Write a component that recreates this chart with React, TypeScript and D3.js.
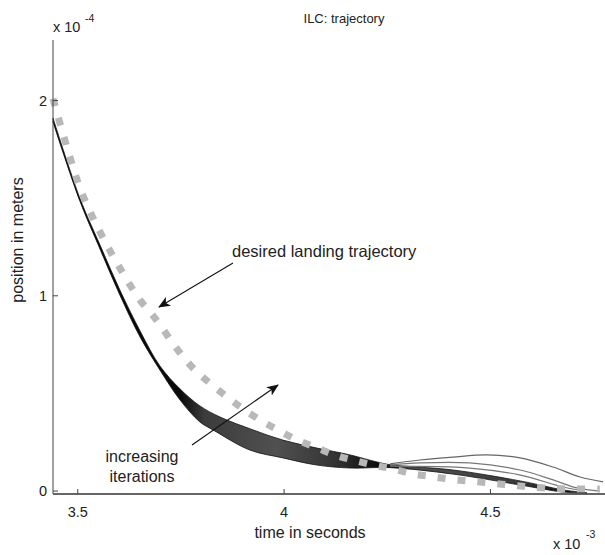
import React from "react";
import * as d3 from "d3";

// time in units of 1e-3 s, position in units of 1e-4 m
const xTicks = [3.5, 4, 4.5];
const yTicks = [0, 1, 2];
const xTickLabels = ["3.5", "4", "4.5"];
const yTickLabels = ["0", "1", "2"];

const desiredT = [3.44, 3.481, 3.51, 3.554, 3.602, 3.651, 3.687, 3.748, 3.784, 3.82, 3.862, 3.898, 3.942, 3.985, 4.031, 4.08, 4.123, 4.167, 4.215, 4.264, 4.312, 4.358, 4.407, 4.455, 4.504, 4.552, 4.601, 4.668, 4.765];
const desiredV = [2.01, 1.71, 1.527, 1.327, 1.142, 0.978, 0.886, 0.707, 0.62, 0.553, 0.482, 0.425, 0.364, 0.313, 0.262, 0.221, 0.185, 0.159, 0.134, 0.113, 0.088, 0.074, 0.06, 0.05, 0.04, 0.03, 0.02, 0.012, 0.01];

const bandUpperT = [3.44, 3.505, 3.554, 3.602, 3.651, 3.699, 3.748, 3.796, 3.845, 3.925, 3.997, 4.08, 4.16, 4.225, 4.257, 4.409, 4.572, 4.676, 4.717];
const bandUpperV = [1.91, 1.501, 1.26, 1.03, 0.82, 0.641, 0.523, 0.436, 0.379, 0.313, 0.261, 0.22, 0.185, 0.149, 0.135, 0.108, 0.052, 0.006, -0.005];
const bandLowerT = [3.44, 3.505, 3.554, 3.602, 3.651, 3.699, 3.748, 3.796, 3.828, 3.917, 3.997, 4.08, 4.16, 4.257, 4.409, 4.572, 4.676, 4.734];
const bandLowerV = [1.89, 1.486, 1.239, 1.004, 0.789, 0.62, 0.466, 0.354, 0.313, 0.21, 0.17, 0.133, 0.118, 0.12, 0.087, 0.031, -0.005, -0.01];

const lateIter1T = [4.257, 4.329, 4.409, 4.492, 4.572, 4.652, 4.717, 4.773];
const lateIter1V = [0.139, 0.159, 0.174, 0.185, 0.17, 0.123, 0.072, 0.047];
const lateIter2T = [4.257, 4.329, 4.45, 4.572, 4.652, 4.71, 4.765];
const lateIter2V = [0.133, 0.144, 0.144, 0.108, 0.057, 0.016, 0.0];
const lateIter3T = [4.257, 4.45, 4.572, 4.676, 4.729];
const lateIter3V = [0.128, 0.118, 0.082, 0.021, 0.0];

const W = 605;
const H = 555;
const font = "'Liberation Sans', Arial, Helvetica, sans-serif";

export default function App() {
  const x = d3.scaleLinear().domain([3.44, 4.78]).range([53, 606]);
  const y = d3.scaleLinear().domain([-0.015, 2.31]).range([494, 40]);

  const zip = (t: number[], v: number[]) => t.map((ti, i) => [ti, v[i]] as [number, number]);
  const line = d3
    .line<[number, number]>()
    .x((d) => x(d[0]))
    .y((d) => y(d[1]))
    .curve(d3.curveCatmullRom.alpha(0.5));

  const upper = zip(bandUpperT, bandUpperV);
  const lower = zip(bandLowerT, bandLowerV);
  const upperPath = line(upper) || "";
  const lowerRev = line(lower.slice().reverse()) || "";
  const bandPath = upperPath + "L" + lowerRev.slice(1) + "Z";

  const late = [
    zip(lateIter1T, lateIter1V),
    zip(lateIter2T, lateIter2V),
    zip(lateIter3T, lateIter3V),
  ];

  const desired = zip(desiredT, desiredV);

  const grad = (t: number) => ((x(t) - 53) / (606 - 53)) * 100 + "%";

  return (
    <svg
      width={W}
      height={H}
      style={{ position: "absolute", left: 0, top: 0, background: "#fff" }}
      fontFamily={font}
    >
      <defs>
        <linearGradient id="bandGrad" x1="0%" x2="100%" y1="0%" y2="0%">
          <stop offset={grad(3.44)} stopColor="#000" />
          <stop offset={grad(3.76)} stopColor="#0a0a0a" />
          <stop offset={grad(3.82)} stopColor="#3c3c3c" />
          <stop offset={grad(4.0)} stopColor="#505050" />
          <stop offset={grad(4.15)} stopColor="#333" />
          <stop offset={grad(4.26)} stopColor="#0a0a0a" />
          <stop offset={grad(4.35)} stopColor="#505050" />
          <stop offset={grad(4.6)} stopColor="#3a3a3a" />
          <stop offset={grad(4.75)} stopColor="#111" />
        </linearGradient>
        <marker id="arrow" viewBox="0 0 12 10" refX="11" refY="5" markerWidth="12" markerHeight="10" markerUnits="userSpaceOnUse" orient="auto">
          <path d="M0,0 L12,5 L0,10 L3,5 Z" fill="#111" />
        </marker>
      </defs>

      {/* title */}
      <text x={344} y={23} fontSize={13} textAnchor="middle" fill="#222">ILC: trajectory</text>

      {/* y exponent */}
      <text x={53} y={32} fontSize={14.5} fill="#222">x 10</text>
      <text x={85} y={22} fontSize={10.5} fill="#222">-4</text>

      {/* iteration band */}
      <path d={bandPath} fill="url(#bandGrad)" stroke="#111" strokeWidth={0.8} />

      {/* later iterations */}
      {late.map((d, i) => (
        <path key={i} d={line(d) || ""} fill="none" stroke={i === 0 ? "#666" : "#777"} strokeWidth={1.2} />
      ))}

      {/* desired trajectory */}
      <path d={line(desired) || ""} fill="none" stroke="#b8b8b8" strokeWidth={7} strokeDasharray="8 12" />

      {/* axes */}
      <line x1={53} x2={53} y1={40} y2={494} stroke="#444" strokeWidth={1} />
      <line x1={53} x2={606} y1={494} y2={494} stroke="#333" strokeWidth={1.6} />
      {yTicks.map((t, i) => (
        <g key={"y" + i}>
          <line x1={53} x2={58} y1={y(t)} y2={y(t)} stroke="#444" />
          <text x={47} y={y(t) + 5} fontSize={14.5} textAnchor="end" fill="#222">{yTickLabels[i]}</text>
        </g>
      ))}
      {xTicks.map((t, i) => (
        <g key={"x" + i}>
          <line x1={x(t)} x2={x(t)} y1={494} y2={489} stroke="#444" />
          <text x={x(t)} y={517} fontSize={14.5} textAnchor="middle" fill="#222">{xTickLabels[i]}</text>
        </g>
      ))}

      {/* axis labels */}
      <text x={310} y={538} fontSize={16} textAnchor="middle" fill="#222">time in seconds</text>
      <text transform="translate(23,240) rotate(-90)" fontSize={16} textAnchor="middle" fill="#222">position in meters</text>
      <text x={553} y={549} fontSize={14.5} fill="#222">x 10</text>
      <text x={586} y={538} fontSize={10.5} fill="#222">-3</text>

      {/* annotations */}
      <text x={232} y={257} fontSize={16.5} fill="#222">desired landing trajectory</text>
      <line x1={233} y1={263} x2={159} y2={307} stroke="#111" strokeWidth={1.1} markerEnd="url(#arrow)" />
      <text x={142} y={462} fontSize={16} textAnchor="middle" fill="#222">increasing</text>
      <text x={142} y={482} fontSize={16} textAnchor="middle" fill="#222">iterations</text>
      <line x1={192} y1={445} x2={278} y2={385} stroke="#111" strokeWidth={1.1} markerEnd="url(#arrow)" />
    </svg>
  );
}
